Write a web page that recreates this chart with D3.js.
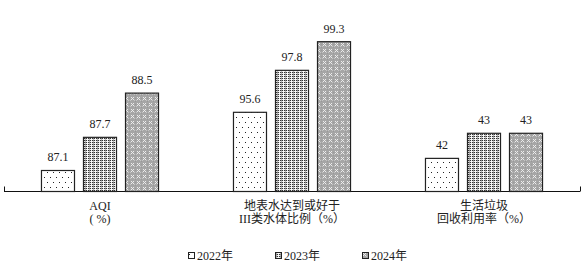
<!DOCTYPE html>
<html><head><meta charset="utf-8">
<script src="https://cdn.jsdelivr.net/npm/d3@7/dist/d3.min.js"></script>
<style>
html,body{margin:0;padding:0;background:#fff;}
svg{display:block;}
text{font-family:"Liberation Serif","Noto Sans CJK SC",serif;fill:#222;}
</style></head>
<body>
<script>
// ---- data ----
const categories = ["AQI", "地表水", "生活垃圾"];
const categoryLabels = [["AQI", "( %)"], ["地表水达到或好于", "III类水体比例（%）"], ["生活垃圾", "回收利用率（%）"]];
const years = ["2022年", "2023年", "2024年"];
const values2022 = [87.1, 95.6, 42];
const values2023 = [87.7, 97.8, 43];
const values2024 = [88.5, 99.3, 43];
// each indicator is drawn on its own (broken) value axis
const groupDomains = [[86.72, 89.43], [91.45, 99.30], [40.68, 46.65]];

const W = 587, H = 274;
const baseY = 191.5, topY = 41.7, left = 4, right = 580;

const svg = d3.select("body").append("svg").attr("width", W).attr("height", H);
const defs = svg.append("defs");

// patterns
function pat(id, w, h, bg, pts, color) {
  const p = defs.append("pattern").attr("id", id).attr("patternUnits", "userSpaceOnUse")
    .attr("width", w).attr("height", h);
  p.append("rect").attr("width", w).attr("height", h).attr("fill", bg);
  pts.forEach(([x, y, c]) => p.append("rect").attr("x", x).attr("y", y).attr("width", 1).attr("height", 1)
    .attr("fill", c || color).attr("shape-rendering", "crispEdges"));
}
pat("p2022", 6, 10, "#fff", [[1, 2], [4, 7]], "#222");
pat("p2023", 4, 4, "#eeeeee", [[0, 0], [2, 0], [0, 2], [2, 2], [1, 1, "#b5b5b5"], [3, 1, "#fff"], [1, 3, "#b5b5b5"], [3, 3, "#fff"], [1,0,"#888"],[1,2,"#888"]], "#333");
pat("p2024", 6, 6, "#a6a6a6", [[1, 1], [3, 1], [2, 2], [1, 3], [3, 3], [4,4,"#c4c4c4"],[0,4,"#c4c4c4"],[5,5,"#999"],[5,2,"#999"]], "#ececec");

const fills = ["url(#p2022)", "url(#p2023)", "url(#p2024)"];
const series = [values2022, values2023, values2024];

const x0 = d3.scaleBand().domain(categories).range([left, right]).padding(0);
const x1 = d3.scaleBand().domain(years).range([0, x0.bandwidth()]).paddingInner(0.19).paddingOuter(0.88);
const yScales = groupDomains.map(d => d3.scaleLinear().domain(d).range([baseY, topY]));

// axis line
const ax = svg.append("g");
ax.append("line").attr("x1", left).attr("x2", right).attr("y1", baseY).attr("y2", baseY)
  .attr("stroke", "#111").attr("stroke-width", 1);
[left, right].forEach(xx => ax.append("line").attr("x1", xx + 0.5).attr("x2", xx + 0.5)
  .attr("y1", baseY - 5).attr("y2", baseY).attr("stroke", "#111").attr("stroke-width", 1));

// bars
categories.forEach((c, gi) => {
  const g = svg.append("g").attr("transform", `translate(${x0(c)},0)`);
  const y = yScales[gi];
  years.forEach((yr, si) => {
    const v = series[si][gi];
    g.append("rect").attr("x", x1(yr) + 0.5).attr("y", y(v)).attr("width", x1.bandwidth() - 1)
      .attr("height", baseY - y(v)).attr("fill", fills[si]).attr("stroke", "#222").attr("stroke-width", 1.2);
    g.append("text").attr("x", x1(yr) + x1.bandwidth() / 2).attr("y", y(v) - 9)
      .attr("text-anchor", "middle").attr("font-size", 12).text(v);
  });
  const lab = svg.append("text").attr("text-anchor", "middle").attr("font-size", 12);
  categoryLabels[gi].forEach((t, li) => {
    lab.append("tspan").attr("x", x0(c) + x0.bandwidth() / 2).attr("y", 210 + li * 13).text(t);
  });
});

// legend
const legX = d3.scalePoint().domain(years).range([188, 362]);
years.forEach((yr, i) => {
  const g = svg.append("g").attr("transform", `translate(${legX(yr)},252)`);
  g.append("rect").attr("x", 0.5).attr("y", 0.5).attr("width", 6).attr("height", 6)
    .attr("fill", fills[i]).attr("stroke", "#222").attr("stroke-width", 1);
  g.append("text").attr("x", 9).attr("y", 7.5).attr("font-size", 12).text(yr);
});
</script>
</body></html>
